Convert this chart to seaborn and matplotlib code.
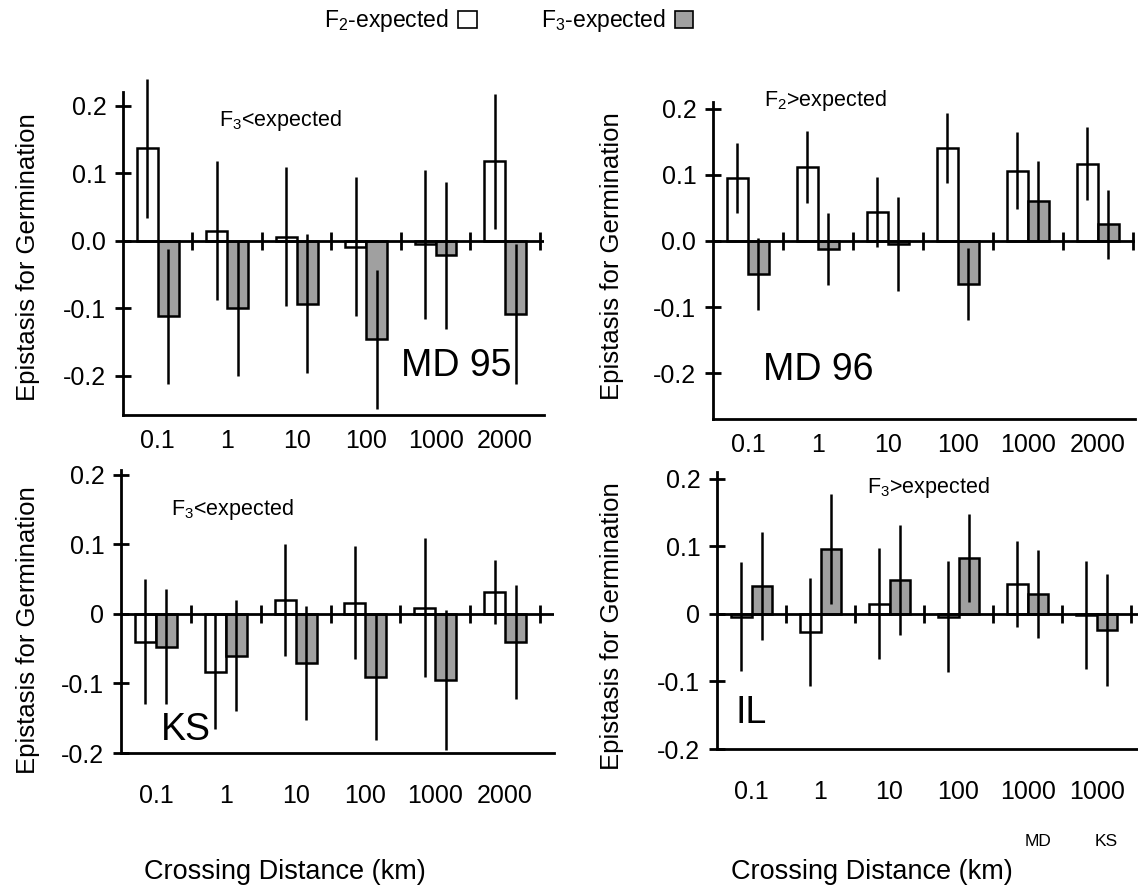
import numpy as np
import pandas as pd
import matplotlib
matplotlib.use("Agg")
import matplotlib.pyplot as plt
from matplotlib.patches import Patch
import seaborn as sns

# ---------------- data ----------------
series = ["F2", "F3"]

md95_cats = ["0.1", "1", "10", "100", "1000", "2000"]
md95_f2 = [0.137, 0.015, 0.006, -0.009, -0.005, 0.118]
md95_f2_err = [0.103, 0.103, 0.103, 0.103, 0.110, 0.100]
md95_f3 = [-0.112, -0.100, -0.093, -0.146, -0.021, -0.108]
md95_f3_err = [0.100, 0.100, 0.103, 0.103, 0.109, 0.104]

md96_cats = ["0.1", "1", "10", "100", "1000", "2000"]
md96_f2 = [0.095, 0.112, 0.044, 0.140, 0.106, 0.117]
md96_f2_err = [0.053, 0.054, 0.053, 0.053, 0.058, 0.055]
md96_f3 = [-0.050, -0.012, -0.004, -0.065, 0.061, 0.025]
md96_f3_err = [0.055, 0.055, 0.071, 0.055, 0.060, 0.052]

ks_cats = ["0.1", "1", "10", "100", "1000", "2000"]
ks_f2 = [-0.040, -0.083, 0.020, 0.016, 0.009, 0.032]
ks_f2_err = [0.090, 0.082, 0.080, 0.081, 0.100, 0.046]
ks_f3 = [-0.047, -0.060, -0.071, -0.091, -0.095, -0.040]
ks_f3_err = [0.083, 0.080, 0.082, 0.090, 0.100, 0.082]

il_cats = ["0.1", "1", "10", "100", "1000 MD", "1000 KS"]
il_ticklabels = ["0.1", "1", "10", "100", "1000", "1000"]
il_sublabels = ["MD", "KS"]
il_f2 = [-0.004, -0.027, 0.015, -0.004, 0.044, -0.001]
il_f2_err = [0.081, 0.080, 0.082, 0.082, 0.064, 0.080]
il_f3 = [0.041, 0.096, 0.050, 0.083, 0.030, -0.024]
il_f3_err = [0.080, 0.081, 0.081, 0.065, 0.065, 0.083]

yticks = [-0.2, -0.1, 0.0, 0.1, 0.2]
top_ytick_labels = ["-0.2", "-0.1", "0.0", "0.1", "0.2"]
bottom_ytick_labels = ["-0.2", "-0.1", "0", "0.1", "0.2"]

# ---------------- style ----------------
sns.set_style("ticks")
plt.rcParams["font.family"] = ["Liberation Sans", "DejaVu Sans"]
plt.rcParams["mathtext.fontset"] = "custom"
plt.rcParams["mathtext.rm"] = "Liberation Sans"
plt.rcParams["mathtext.it"] = "Liberation Sans:italic"
plt.rcParams["mathtext.default"] = "rm"
for k in ["text.color", "axes.labelcolor", "xtick.color", "ytick.color", "axes.edgecolor"]:
    plt.rcParams[k] = "black"

W, H = 1138, 896
fig = plt.figure(figsize=(W / 100, H / 100), dpi=100)

TICK_FS = 18
YLAB_FS = 18.5
LW = 2.0


def px_axes(left, right_px, top_px, bottom_px):
    return [left / W, 1 - bottom_px / H, (right_px - left) / W, (bottom_px - top_px) / H]


panels = [
    dict(cats=md95_cats, ticklabels=md95_cats, f2=md95_f2, f2e=md95_f2_err, f3=md95_f3, f3e=md95_f3_err,
         rect=px_axes(123, 544, 75.6, 415), ylim=(-0.258, 0.245), xlim=(-0.5, 5.56), spine_top=0.22,
         ytl=top_ytick_labels, pad=10, ylab=(-0.197, 0.465),
         notes=[("F$_3$<expected", 1.76, 0.178, 15.5), ("MD 95", 4.3, -0.185, 27)]),
    dict(cats=md96_cats, ticklabels=md96_cats, f2=md96_f2, f2e=md96_f2_err, f3=md96_f3, f3e=md96_f3_err,
         rect=px_axes(713, 1135, 102, 419), ylim=(-0.269, 0.21), xlim=(-0.5, 5.53), spine_top=0.21,
         ytl=top_ytick_labels, pad=10, ylab=(-0.211, 0.514),
         notes=[("F$_2$>expected", 1.1, 0.213, 15.5), ("MD 96", 1.0, -0.195, 27)]),
    dict(cats=ks_cats, ticklabels=ks_cats, f2=ks_f2, f2e=ks_f2_err, f3=ks_f3, f3e=ks_f3_err,
         rect=px_axes(121, 554, 470, 753), ylim=(-0.2, 0.207), xlim=(-0.5, 5.7), spine_top=0.207,
         ytl=bottom_ytick_labels, pad=22, ylab=(-0.187, 0.435),
         notes=[("F$_3$<expected", 1.09, 0.15, 15.5), ("KS", 0.43, -0.167, 27)]),
    dict(cats=il_cats, ticklabels=il_ticklabels, f2=il_f2, f2e=il_f2_err, f3=il_f3, f3e=il_f3_err,
         rect=px_axes(717, 1138, 472, 749), ylim=(-0.2, 0.21), xlim=(-0.5, 5.6), spine_top=0.21,
         ytl=bottom_ytick_labels, pad=22, ylab=(-0.221, 0.444),
         notes=[("F$_3$>expected", 2.56, 0.187, 15.5), ("IL", 0.0, -0.147, 27)]),
]

palette = {"F2": "white", "F3": "#a0a0a0"}

axes = []
for p in panels:
    ax = fig.add_axes(p["rect"])
    axes.append(ax)
    df = pd.DataFrame({
        "dist": list(p["cats"]) * 2,
        "series": ["F2"] * len(p["cats"]) + ["F3"] * len(p["cats"]),
        "value": list(p["f2"]) + list(p["f3"]),
    })
    sns.barplot(data=df, x="dist", y="value", hue="series", order=p["cats"], hue_order=series,
                palette=palette, edgecolor="black", linewidth=1.8, width=0.6, errorbar=None,
                legend=False, ax=ax, zorder=2)
    errs = [p["f2e"], p["f3e"]]
    vals = [p["f2"], p["f3"]]
    for cont, e, v in zip(ax.containers, errs, vals):
        xs = [b.get_x() + b.get_width() / 2 for b in cont]
        ax.errorbar(xs, v, yerr=e, fmt="none", ecolor="black", elinewidth=1.8, capsize=0,
                    zorder=4, clip_on=False)
    n = len(p["cats"])
    ax.axhline(0, color="black", lw=LW, zorder=3)
    bounds = np.arange(n) + 0.5
    ax.plot(bounds, np.zeros(n), ls="none", marker="|", ms=13, mew=2.0, color="black",
            zorder=3, clip_on=False)
    ax.set_xlim(*p["xlim"])
    ax.set_ylim(*p["ylim"])
    ax.set_yticks(yticks)
    ax.set_yticklabels(p["ytl"], fontsize=TICK_FS)
    ax.set_xticks(np.arange(n))
    ax.set_xticklabels(p["ticklabels"], fontsize=TICK_FS)
    ax.tick_params(axis="x", length=0, pad=p["pad"])
    ax.tick_params(axis="y", direction="inout", length=12, width=LW, pad=6)
    for s in ["top", "right"]:
        ax.spines[s].set_visible(False)
    ax.spines["left"].set_linewidth(LW)
    ax.spines["bottom"].set_linewidth(LW)
    ax.spines["left"].set_bounds(p["ylim"][0], p["spine_top"])
    ax.set_xlabel("")
    ax.set_ylabel("Epistasis for Germination", fontsize=YLAB_FS)
    ax.yaxis.set_label_coords(*p["ylab"])
    ax.patch.set_alpha(0)
    for txt, x, y, fs in p["notes"]:
        ax.text(x, y, txt, fontsize=fs, ha="center", va="center", zorder=5)

# MD / KS sub-labels under the last two IL ticks
for lab, xi in zip(il_sublabels, [4, 5]):
    axes[3].annotate(lab, xy=(xi, -0.2), xycoords="data", xytext=(10, -92),
                     textcoords="offset pixels", ha="center", va="center", fontsize=12.5)

# x labels
fig.text(285 / W, 1 - 872 / H, "Crossing Distance (km)", fontsize=19.5, ha="center", va="center")
fig.text(872 / W, 1 - 872 / H, "Crossing Distance (km)", fontsize=19.5, ha="center", va="center")

# legend
handles = [Patch(facecolor=palette["F2"], edgecolor="black", linewidth=1.2),
           Patch(facecolor=palette["F3"], edgecolor="black", linewidth=1.2)]
fig.legend(handles, ["F$_2$-expected", "F$_3$-expected"], loc="center",
           bbox_to_anchor=(0.447, 1 - 21 / H), ncol=2, frameon=False, markerfirst=False,
           handlelength=0.8, handleheight=0.8, handletextpad=0.4, columnspacing=2.8, fontsize=16.5)

fig.savefig("out.png", dpi=100)
